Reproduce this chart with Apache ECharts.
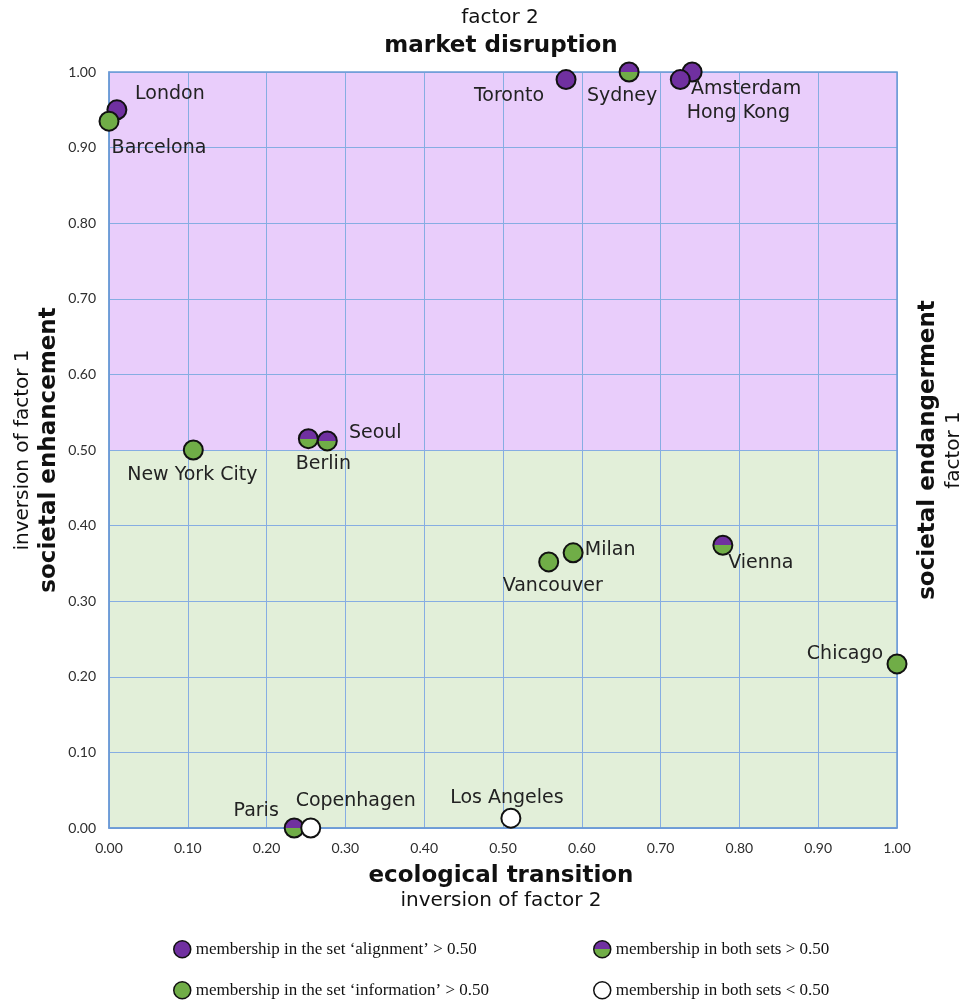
<!DOCTYPE html>
<html>
<head>
<meta charset="utf-8">
<script src="https://cdn.jsdelivr.net/npm/echarts@6/dist/echarts.min.js"></script>
<style>
  html, body { margin: 0; padding: 0; background: #fff; }
  #main { width: 971px; height: 1002px; }
</style>
</head>
<body>
<div id="main"></div>
<script>
// cities
var cities = ['London', 'Barcelona', 'Toronto', 'Sydney', 'Amsterdam', 'Hong Kong',
  'New York City', 'Berlin', 'Seoul', 'Milan', 'Vancouver', 'Vienna', 'Chicago',
  'Paris', 'Copenhagen', 'Los Angeles']
// ecological transition (inversion of factor 2)
var ecoValues = [0.01, 0.00, 0.58, 0.66, 0.74, 0.725, 0.107, 0.253, 0.277, 0.589,
  0.558, 0.779, 1.00, 0.235, 0.256, 0.51]
// societal enhancement (inversion of factor 1)
var socValues = [0.95, 0.935, 0.99, 1.00, 1.00, 0.99, 0.50, 0.515, 0.512, 0.364,
  0.352, 0.374, 0.217, 0.00, 0.00, 0.013]
// set membership: a = alignment, i = information, b = both, n = neither
var membership = ['a', 'i', 'a', 'b', 'a', 'a', 'i', 'b', 'b', 'i', 'i', 'b', 'i',
  'b', 'n', 'n']
var tickLabels = ['0.00', '0.10', '0.20', '0.30', '0.40', '0.50', '0.60', '0.70', '0.80', '0.90', '1.00']

// label placement around each marker (dx, dy)
var labelOffsets = {
  'London': [53, -16], 'Barcelona': [50, 27], 'Toronto': [-57, 17], 'Sydney': [-7, 24],
  'Amsterdam': [54, 17], 'Hong Kong': [58, 34], 'New York City': [-1, 25],
  'Berlin': [15, 25], 'Seoul': [48, -8], 'Milan': [37, -3], 'Vancouver': [4, 24],
  'Vienna': [38, 18], 'Chicago': [-52, -10], 'Paris': [-38, -17],
  'Copenhagen': [45, -27], 'Los Angeles': [-4, -20]
}

var PURPLE = '#7030a0'
var GREEN = '#70ad47'
var halfFill = new echarts.graphic.LinearGradient(0, 0, 0, 1, [
  { offset: 0, color: PURPLE },
  { offset: 0.5, color: PURPLE },
  { offset: 0.5, color: GREEN },
  { offset: 1, color: GREEN }
])

var groups = [
  { key: 'a', name: 'membership in the set \u2018alignment\u2019 > 0.50', color: PURPLE },
  { key: 'b', name: 'membership in both sets > 0.50', color: halfFill },
  { key: 'i', name: 'membership in the set \u2018information\u2019 > 0.50', color: GREEN },
  { key: 'n', name: 'membership in both sets < 0.50', color: '#ffffff' }
]

function groupData(key) {
  var out = []
  cities.forEach(function (c, i) {
    if (membership[i] !== key) return
    out.push({
      name: c,
      value: [ecoValues[i], socValues[i]],
      label: { offset: labelOffsets[c] }
    })
  })
  return out
}

var series = groups.map(function (g) {
  return {
    name: g.name,
    type: 'scatter',
    symbol: 'circle',
    symbolSize: 19,
    clip: false,
    z: 5,
    itemStyle: { color: g.color, borderColor: '#111', borderWidth: 2, opacity: 1 },
    label: {
      show: true,
      position: 'inside',
      formatter: '{b}',
      fontFamily: 'DejaVu Sans',
      fontSize: 19,
      color: '#222'
    },
    emphasis: { disabled: true },
    data: groupData(g.key)
  }
})

// background quadrants
series.push({
  type: 'scatter',
  data: [],
  silent: true,
  z: 0,
  markArea: {
    silent: true,
    z: 0,
    label: { show: false },
    data: [
      [{ coord: [0, 0.5], itemStyle: { color: '#e9cdfb', opacity: 1 } }, { coord: [1, 1] }],
      [{ coord: [0, 0], itemStyle: { color: '#e2efd9', opacity: 1 } }, { coord: [1, 0.5] }]
    ]
  }
})

var chart = echarts.init(document.getElementById('main'))
var gridLeft = 109, gridRight = 74, gridTop = 72, gridBottom = 174
var cx = (gridLeft + (971 - gridRight)) / 2
var cy = (gridTop + (1002 - gridBottom)) / 2

function txt(x, y, text, size, bold, rotation, family) {
  return {
    type: 'text',
    x: x,
    y: y,
    rotation: rotation || 0,
    silent: true,
    style: {
      text: text,
      fontFamily: family || 'DejaVu Sans',
      fontSize: size,
      fontWeight: bold ? 'bold' : 'normal',
      fill: '#111',
      align: 'center',
      verticalAlign: 'middle'
    }
  }
}

function legendAt(name, left, top) {
  return {
    data: [name],
    left: left, top: top,
    itemWidth: 17, itemHeight: 19, icon: 'circle',
    itemStyle: { borderColor: '#111', borderWidth: 1.5 },
    textStyle: { fontFamily: 'Liberation Serif', fontSize: 17, color: '#111' },
    selectedMode: false
  }
}

var axisCommon = {
  type: 'value', min: 0, max: 1, interval: 0.1, z: 3,
  axisLine: { show: true, lineStyle: { color: '#6c9bd6', width: 1.5 } },
  axisTick: { show: false },
  splitLine: { show: true, lineStyle: { color: '#86ade2', width: 1 } },
  axisLabel: {
    margin: 13, fontFamily: 'Lato', fontSize: 14, color: '#2e2e2e',
    formatter: function (v) { return tickLabels[Math.round(v * 10)] }
  }
}

var option = {
  backgroundColor: '#fff',
  animation: false,
  grid: {
    left: gridLeft, right: gridRight, top: gridTop, bottom: gridBottom,
    show: true, z: 4, borderColor: '#6c9bd6', borderWidth: 1.5, backgroundColor: 'transparent'
  },
  xAxis: axisCommon,
  yAxis: axisCommon,
  legend: [
    legendAt(groups[0].name, 168, 935),
    legendAt(groups[2].name, 168, 976),
    legendAt(groups[1].name, 588, 935),
    legendAt(groups[3].name, 588, 976)
  ],
  graphic: [
    txt(cx - 3, 18, 'factor 2', 20, false),
    txt(cx - 2, 46, 'market disruption', 23, true),
    txt(cx - 2, 876, 'ecological transition', 23, true),
    txt(cx - 2, 901, 'inversion of factor 2', 20, false),
    txt(23, cy, 'inversion of factor 1', 20, false, Math.PI / 2),
    txt(49, cy, 'societal enhancement', 23, true, Math.PI / 2),
    txt(928, cy, 'societal endangerment', 23, true, Math.PI / 2),
    txt(954, cy, 'factor 1', 20, false, Math.PI / 2),
    txt(660, 336, 'alignment', 23, true),
    txt(344, 563, 'information', 23, true)
  ],
  series: series
}
chart.setOption(option)
</script>
</body>
</html>
